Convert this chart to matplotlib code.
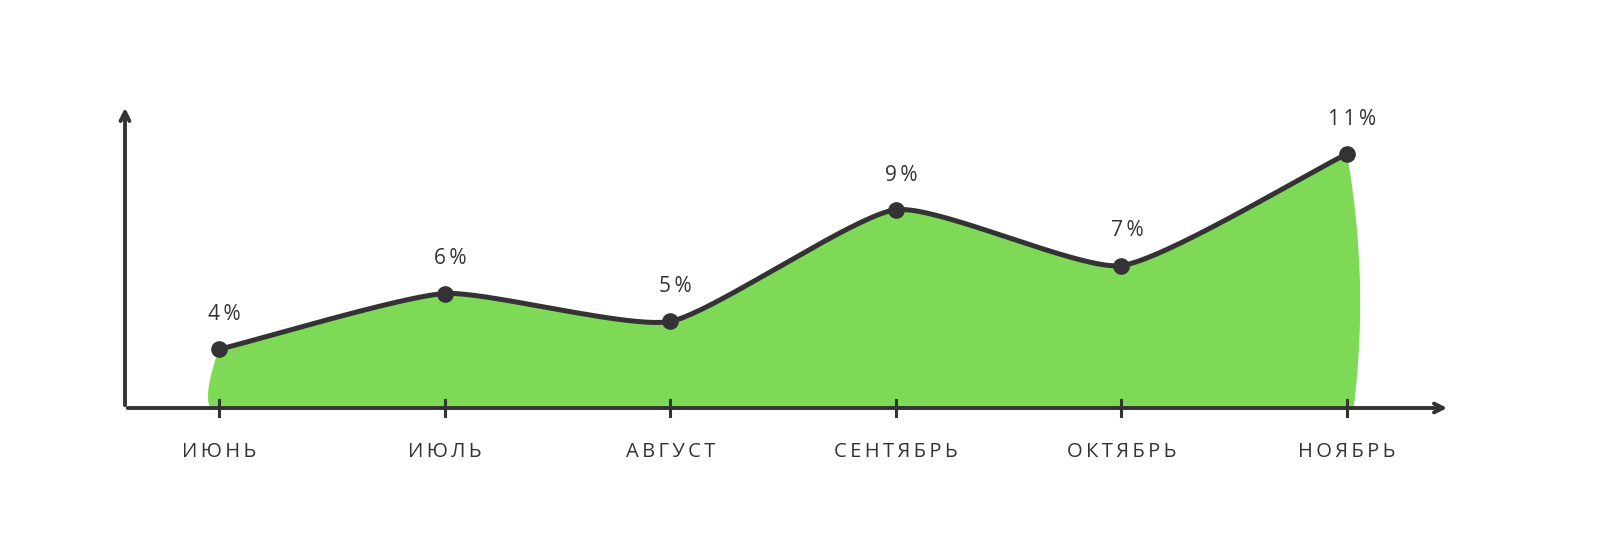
import numpy as np
import matplotlib
matplotlib.use('Agg')
import matplotlib.pyplot as plt

# Data
months = ['ИЮНЬ', 'ИЮЛЬ', 'АВГУСТ', 'СЕНТЯБРЬ', 'ОКТЯБРЬ', 'НОЯБРЬ']
values = [4, 6, 5, 9, 7, 11]
value_labels = ['4%', '6%', '5%', '9%', '7%', '11%']

ink = '#333333'
green = '#7ED957'
base = 1.9

plt.rcParams['font.family'] = ['Open Sans', 'DejaVu Sans']

fig = plt.figure(figsize=(15.99, 5.33), dpi=100)
ax = fig.add_axes([125 / 1599, 1 - 408 / 533, (1450 - 125) / 1599, (408 - 105) / 533])
ax.set_xlim(-0.417, 5.457)
ax.set_ylim(base, 12.75)
ax.axis('off')

x = np.arange(len(values))
y = np.array(values, dtype=float)


# smooth curve through the points (cardinal spline, softer than Catmull-Rom)
def cardinal(xs, ys, tension=0.55, n=40):
    pts = np.column_stack([xs, ys])
    m = np.zeros_like(pts)
    m[1:-1] = (pts[2:] - pts[:-2]) / 2 * tension
    m[0] = (pts[1] - pts[0]) * tension
    m[-1] = (pts[-1] - pts[-2]) * tension
    out = []
    t = np.linspace(0, 1, n, endpoint=False)[:, None]
    for i in range(len(pts) - 1):
        h00 = 2 * t ** 3 - 3 * t ** 2 + 1
        h10 = t ** 3 - 2 * t ** 2 + t
        h01 = -2 * t ** 3 + 3 * t ** 2
        h11 = t ** 3 - t ** 2
        out.append(h00 * pts[i] + h10 * m[i] + h01 * pts[i + 1] + h11 * m[i + 1])
    out.append(pts[-1:])
    out = np.vstack(out)
    return out[:, 0], out[:, 1]


cx, cy = cardinal(x, y)


def bezier(p0, c, p1, n=30):
    t = np.linspace(0, 1, n)[:, None]
    return (1 - t) ** 2 * np.array(p0) + 2 * (1 - t) * t * np.array(c) + t ** 2 * np.array(p1)


# filled area with hand-drawn bulging edges
right = bezier((x[-1], y[-1]), (x[-1] + 0.1, (y[-1] + base) / 2), (x[-1] + 0.03, base))
left = bezier((x[0] - 0.04, base), (x[0] - 0.07, (y[0] + base) / 2 - 0.5), (x[0], y[0]))
poly = np.vstack([np.column_stack([cx, cy]), right, left])
ax.fill(poly[:, 0], poly[:, 1], color=green, lw=0, zorder=1)

ax.plot(cx, cy, color=ink, lw=3.6, solid_capstyle='round', zorder=3)
ax.plot(x, y, 'o', color=ink, ms=11, zorder=4)

for xi, yi, lab in zip(x, y, value_labels):
    ax.annotate('\u2009'.join(lab), (xi, yi), xytext=(4, 25), textcoords='offset points',
                ha='center', va='center', fontsize=15, color=ink)

# axes with arrows
ax.annotate('', xy=(1.0, 0), xytext=(0, 0), xycoords='axes fraction',
            arrowprops=dict(arrowstyle='->', color=ink, lw=2.8, mutation_scale=16))
ax.annotate('', xy=(0, 1.0), xytext=(0, 0), xycoords='axes fraction',
            arrowprops=dict(arrowstyle='->', color=ink, lw=2.8, mutation_scale=16))

# ticks and month labels
for xi, m in zip(x, months):
    ax.plot([xi, xi], [base - 0.28, base + 0.28], color=ink, lw=2.2, clip_on=False, zorder=5)
    ax.annotate('\u2009'.join(m), (xi, base), xytext=(0, -32), textcoords='offset points',
                ha='center', va='center', fontsize=14.5, color=ink, annotation_clip=False)

fig.savefig('out.png', dpi=100, facecolor='white')
